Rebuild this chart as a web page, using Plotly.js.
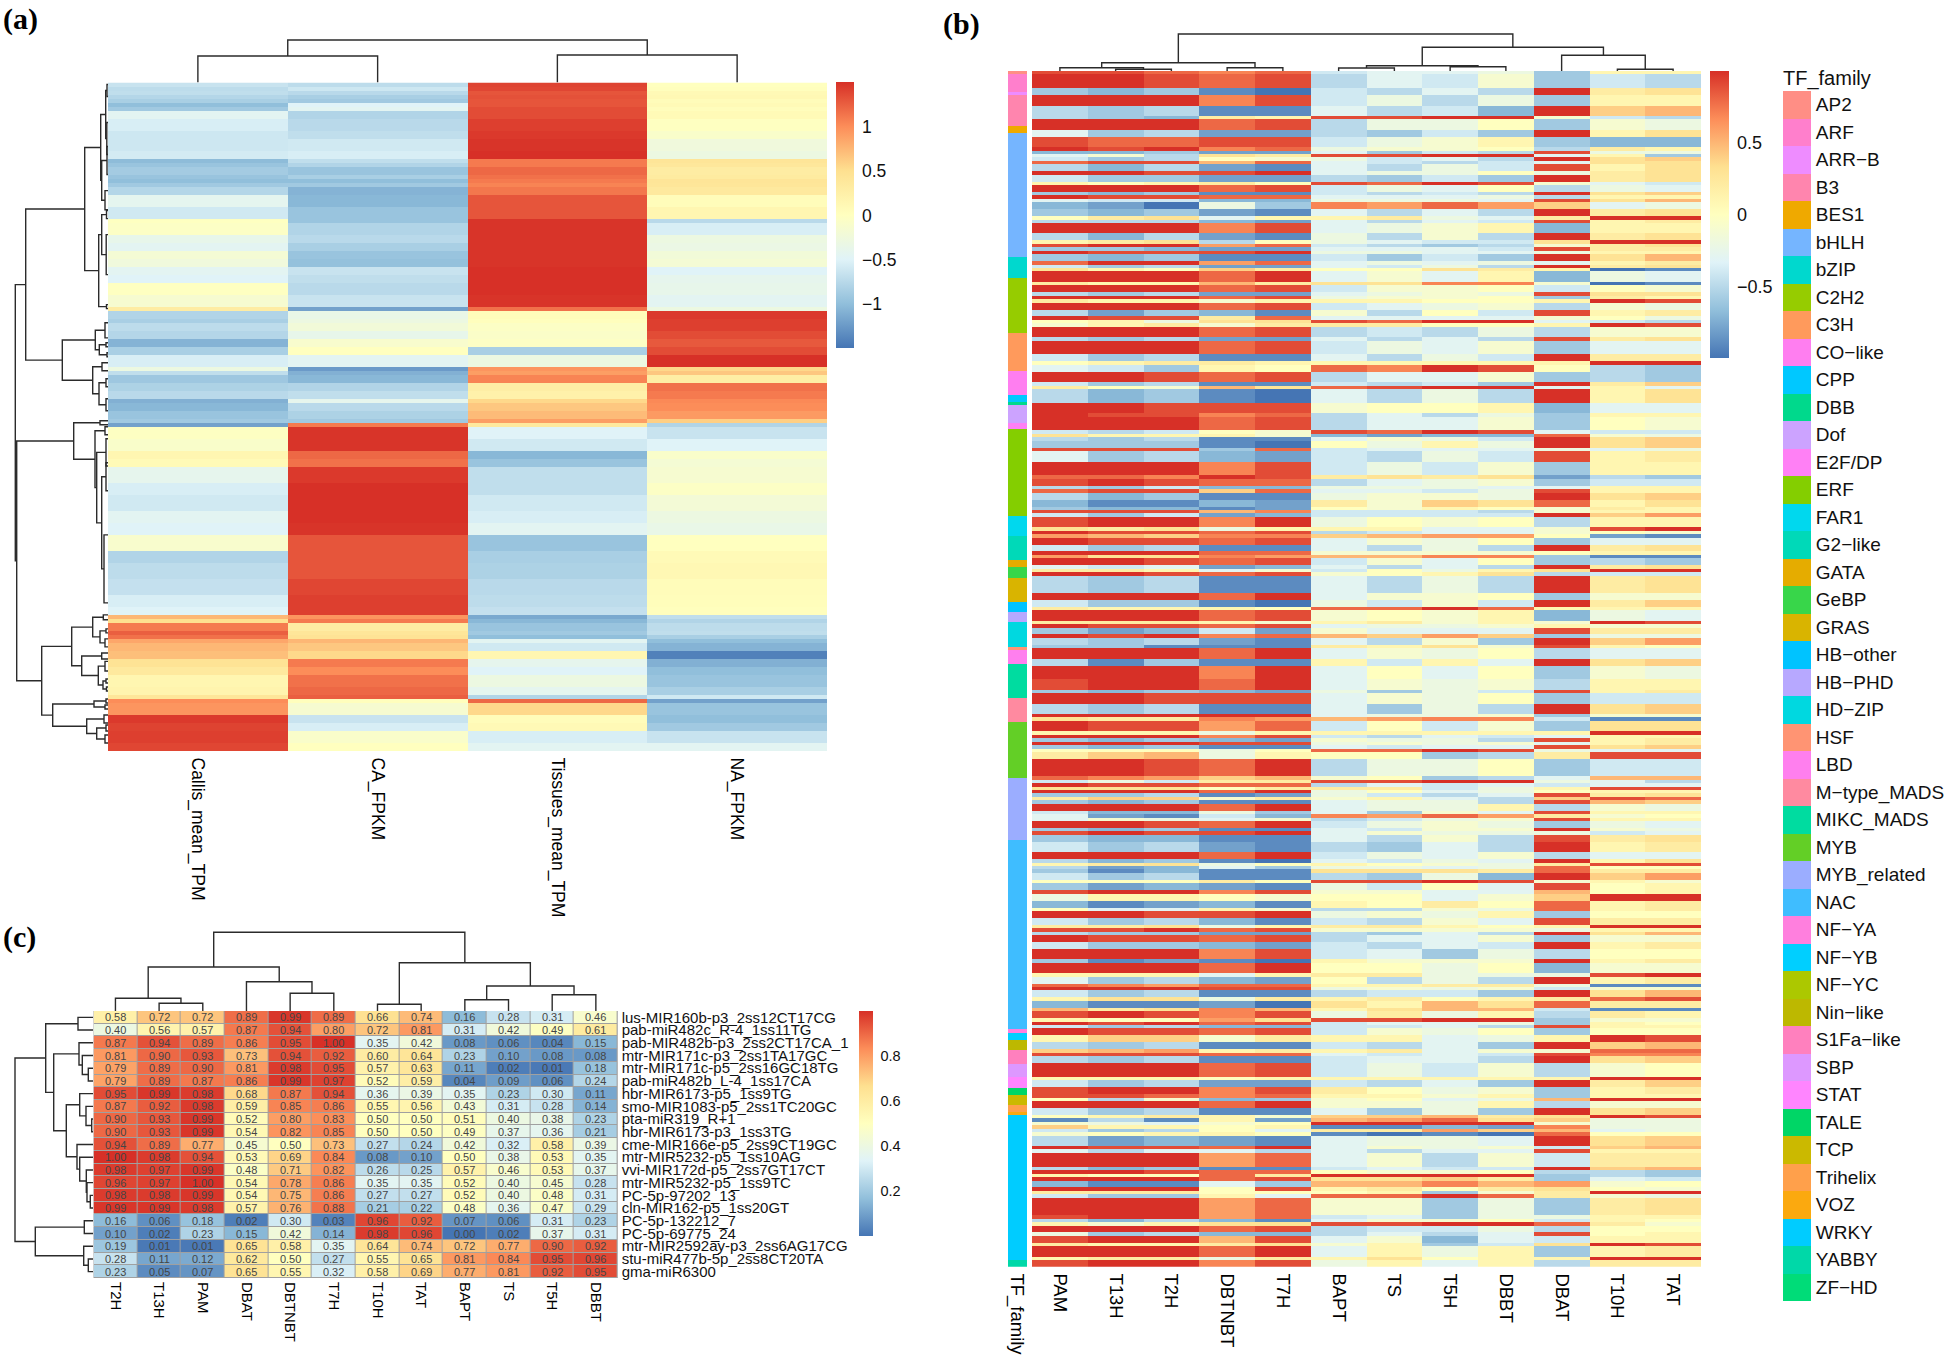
<!DOCTYPE html>
<html><head><meta charset="utf-8">
<script src="https://cdn.plot.ly/plotly-3.0.1.min.js"></script>
<style>html,body{margin:0;padding:0;background:#fff}#g{width:1946px;height:1362px}</style>
</head><body><div id="g"></div>
<script>
const W = 1946, H = 1362;
const palette = ['#4575B4','#91BFDB','#E0F3F8','#FFFFBF','#FEE090','#FC8D59','#D73027'];

/* ---------- panel (a) ---------- */
const aCols = ['Callis_mean_TPM','CA_FPKM','Tissues_mean_TPM','NA_FPKM'];
/* [row count, Callis, CA, Tissues, NA] */
const aBands = [
[1,-.65,-.72,1.4,0],[1,-.72,-.62,1.38,.02],[1,-.7,-.75,1.3,.1],[1,-.78,-.85,1.32,.12],[1,-.85,-.9,1.3,.05],[1,-1,-.5,1.3,.08],[1,-.9,-.45,1.35,.03],[2,-.45,-.8,1.35,.08],
[3,-.55,-.75,1.42,-.02],[2,-.62,-.7,1.45,-.1],[3,-.62,-.6,1.48,-.25],[2,-.58,-.55,1.5,-.3],
[1,-1.02,-.7,1.1,.42],[1,-.95,-.8,1.1,.38],[2,-.88,-.95,1.2,.3],[1,-.95,-.85,1.15,.33],[1,-1,-1,1.1,.42],[1,-.9,-.9,1.05,.4],[2,-.78,-1.08,1.12,.35],[3,-.42,-1.05,1.3,.05],[3,-.6,-.95,1.3,.15],
[1,-.02,-.95,1.48,-.75],[3,-.05,-.8,1.48,-.55],[2,-.38,-.75,1.48,-.3],[2,-.45,-.85,1.48,-.33],[2,-.18,-.95,1.48,-.22],[2,-.25,-.98,1.48,-.18],[2,-.45,-.65,1.5,-.5],[2,-.5,-.7,1.5,-.4],[3,-.02,-.75,1.5,-.38],[3,-.15,-.65,1.48,-.45],[1,.3,-1.2,1.15,-.3],
[2,-.8,-.35,.05,1.45],[1,-.85,-.3,.02,1.42],[2,-.72,-.22,-.05,1.42],[2,-.78,-.38,-.08,1.35],[2,-1.08,-.12,-.05,1.28],[2,-.85,0,-.85,1.35],[3,-.55,-.45,-.3,1.5],
[1,-.3,-1.25,.95,.55],[1,-.7,-1.1,.9,.65],[2,-.92,-1.05,1.05,.28],[2,-.82,-.8,.28,1.15],[2,-.75,-.7,.22,1.1],[1,-1.1,-.4,.55,1.02],[2,-1.05,-.75,.65,1],[2,-.95,-.82,.72,.92],[1,-.9,-.9,.9,.6],
[1,-1.2,1.1,.35,-.8],[3,-.03,1.48,-.5,-.65],[3,-.1,1.48,-.6,-.5],[2,.15,1.2,-1.05,-.1],[2,.08,1.15,-.95,-.18],[4,-.4,1.45,-.7,-.15],
[3,-.55,1.5,-.7,-.05],[4,-.6,1.5,-.6,-.2],[3,-.45,1.5,-.55,-.3],[3,-.5,1.48,-.45,-.35],
[4,-.12,1.3,-.95,0],[3,-.8,1.3,-.85,.08],[4,-.72,1.3,-.82,.12],[4,-.68,1.38,-.75,.05],[3,-.55,1.42,-.72,.04],[2,-.5,1.42,-.68,.02],
[1,.75,.95,-1.15,-.7],[1,.5,1.1,-1.05,-.8],[2,1.1,.3,-.95,-.72],[1,1.25,.4,-.9,-.7],[1,1.15,.45,-1,-.85],[1,.85,.75,-.45,-1],[2,.75,.65,-.6,-1.08],[2,.7,.55,.15,-1.42],[2,.45,1.1,-.4,-1.1],[2,.35,1,-.5,-1],[3,.15,1.15,-.3,-.95],[2,.18,1.2,-.42,-.85],[1,.4,1.25,-.8,-.6],
[1,1,.02,1.2,-1.2],[3,.95,-.15,.55,-.95],[2,1.45,-.65,.05,-1],[2,1.4,-.55,.1,-.9],[3,1.42,-.1,-.55,-.65],[2,1.38,0,-.45,-.45]
];
/* dendrograms: [merge height, child, child]; a number is a leaf position */
const aTopTree = [42.5,[26.5,0,1],[27.5,2,3]];
const aLeftTree = [92.7,
 [82.3,
  [23.3,
   [7.3,[2.3,[1,.5,3.5],[1.2,10,18]],[6.3,[1,16,23],[3,27,31.8]]],
   [9.3,[6.3,[1.5,32,34],[1.8,38,48]],[1.5,55.5,56.5]]],
  [45.7,
   [12.7,[3,60,63.8],[8.7,[2,65,66],[1,67.5,68.5]]],
   [15.3,[6,70,72],[9,[2,74,76],[2,79,82]]]]],
 [91.3,
  [34.3,
   [8,84.5,85.5],
   [13,[3,86,88],[11.3,[2,89,95.8],[6.3,[2,95,102],[4,113,130]]]]],
  [66.3,
   [36.3,
    [15.3,[4.7,133,134.2],[8,[2,136.5,137.5],[3,139,141]]],
    [26.3,[6.3,142.5,144],[9.7,[3,144.6,147],[5,[2,149,150],[1.5,151,152]]]]],
   [55.3,
    [14,[2,154,155],[3,155.5,156.5]],
    [21.3,[4,158,160],[11.3,[2,160.5,162],[3,163,165]]]]]]];

/* ---------- panel (b) ---------- */
const bCols = ['PAM','T13H','T2H','DBTNBT','T7H','BAPT','TS','T5H','DBBT','DBAT','T10H','TAT'];
const families = ['AP2','ARF','ARR\u2212B','B3','BES1','bHLH','bZIP','C2H2','C3H','CO\u2212like','CPP','DBB','Dof','E2F/DP','ERF','FAR1','G2\u2212like','GATA','GeBP','GRAS','HB\u2212other','HB\u2212PHD','HD\u2212ZIP','HSF','LBD','M\u2212type_MADS','MIKC_MADS','MYB','MYB_related','NAC','NF\u2212YA','NF\u2212YB','NF\u2212YC','Nin\u2212like','S1Fa\u2212like','SBP','STAT','TALE','TCP','Trihelix','VOZ','WRKY','YABBY','ZF\u2212HD'];
const familyColors = ['#FF8E85','#FF7FCC','#EE8CFF','#FF85AE','#EFA900','#75B5FF','#00D8CE','#96CC00','#FF9A5C','#FF7EF0','#00C8FF','#00D98C','#CCA3FF','#FF80F5','#84CE00','#00D8EE','#00D9B8','#E5AC00','#38D64A','#D9B400','#00C3FF','#B7A8FF','#00D8E0','#FF9473','#FF7FEE','#FF8AA0','#00DCA0','#63CF26','#9BADFF','#3FBDFF','#FF7FDE','#00CFFF','#ACC800','#BDB800','#FF80BE','#DD98FF','#FF85FF','#00D666','#CBB900','#FFA04B','#FBA90F','#00CCFF','#00D8A8','#00DC78'];
/* [family index, rows] as stacked down the annotation column */
const bAnnotation = [[0,1],[1,5],[2,1],[3,9],[4,2],[5,36],[6,6],[7,16],[8,11],[9,7],[10,2],[11,1],[12,5],[13,2],[14,25],[15,6],[16,7],[17,2],[18,3],[19,7],[20,3],[21,3],[22,7],[23,1],[24,4],[26,10],[25,7],[27,16],[28,18],[29,55],[30,1],[31,2],[33,3],[34,4],[35,4],[36,3],[37,2],[38,3],[39,2],[40,1],[41,42],[42,2]];
/* [row count, then 12 columns in tenths] */
const bBandsTop = [
[1,9,9,8,7,8,-4,-3,-3,-2,-6,1,1],[4,10,10,9,8,9,-5,-3,-4,-1,-6,-4,-5],[2,-6,-7,-6,-9,-10,-4,-5,-3,-5,10,2,3],[3,10,10,10,7,9,-4,-2,-5,-2,-6,1,1],[3,-5,-6,-5,-9,-9,-3,-5,-4,-7,10,4,5],[1,-5,-6,-7,2,1,9,9,10,10,-1,-4,-5],[3,10,10,10,8,9,-5,-2,-2,0,-6,-1,-2],[2,-3,-6,-5,-8,-8,-5,-6,-4,-6,10,1,3],[3,9,8,8,9,9,-4,-2,-1,1,-6,-7,-7],[1,10,9,10,7,8,-2,-1,-1,0,-5,2,1],[1,-7,-7,-6,-8,-8,-3,-6,-4,-5,9,-2,-2],[1,-3,-1,-5,3,2,9,9,10,10,-3,1,-6],[1,-4,-6,-5,0,-1,-2,-4,-3,-5,10,3,4],[1,8,9,9,5,8,-3,-4,-5,-4,-3,3,3],[2,-5,-7,-5,-8,-9,-3,-5,-2,-4,9,1,3],[1,10,10,9,9,10,-3,-2,-2,0,-2,2,3],[2,-4,-6,-6,-8,-8,-5,-6,-4,-6,10,2,3],[1,1,0,1,2,0,9,8,10,9,-1,-3,-4],[2,10,10,10,8,9,-4,-2,-3,0,-5,-2,-3],[1,-6,-7,-6,-9,-9,-4,-5,-4,-5,10,3,4],[1,10,9,9,8,8,-3,-3,-3,-2,-5,1,1],[1,-3,-4,-4,-7,-7,-2,-2,-2,-3,9,3,5],[2,-7,-8,-10,-2,-6,7,6,8,6,4,-3,-2],[2,-6,-7,-6,-8,-9,-3,-5,-3,-5,10,2,3],[1,0,2,3,-3,1,1,2,-2,-3,2,10,10],[1,-5,-5,-5,-7,-8,-3,-5,-3,-4,9,1,2],[3,10,10,10,7,9,-3,-2,-1,1,-7,1,1],[2,-5,-7,-5,-8,-9,-2,-5,-1,-5,10,2,3],[1,1,2,3,-5,0,-2,-3,-4,-4,3,10,10],[1,9,10,10,6,8,-4,-5,-6,-5,-1,2,3],[1,-6,-6,-7,-8,-8,-3,-3,-3,-4,9,2,2],[1,10,9,9,9,10,-2,-2,-3,-3,-2,1,1],[2,-6,-7,-6,-9,-9,-4,-6,-4,-6,10,3,5],[1,8,10,10,6,8,-3,-2,-3,-2,-3,1,2],[1,-4,-6,-5,-8,-8,-3,-4,-2,-5,10,2,3],[1,3,1,0,4,2,0,0,3,2,1,-10,-9],[3,10,10,10,8,10,-3,-1,-3,1,-7,-2,-3],[1,2,1,1,5,2,3,3,7,7,-1,-10,-9],[2,10,10,10,8,9,-4,-1,-1,0,-4,0,-1],[1,-5,-6,-5,-8,-8,-3,-2,-1,-2,9,3,3],[1,10,10,10,8,9,-2,-1,-1,0,-6,2,1],[1,2,1,1,-1,1,1,1,0,0,1,10,9],[2,10,10,10,8,9,-4,-3,-2,-1,-5,-1,-2],[2,-5,-8,-6,-7,-9,-1,-5,0,-4,9,1,2],[1,10,9,9,2,8,-3,-3,-3,-3,-1,0,-2],[1,0,1,-2,3,3,9,8,10,10,-3,-4,-5],[1,-1,1,2,-1,2,2,2,0,0,1,10,9],[3,10,10,10,8,9,-5,-4,-5,-2,-5,-1,-1],[1,-5,-6,-5,-8,-8,-3,-5,-3,-5,9,2,3],[4,10,10,10,8,9,-4,-2,-3,-1,-6,-3,-3],[2,-4,-6,-5,-9,-9,-3,-5,-2,-4,10,2,2],[1,0,1,2,2,1,1,1,1,1,1,10,10],[2,-3,-4,-6,1,0,8,7,10,9,0,-5,-6],[3,10,10,9,8,9,-5,-3,-3,-1,-6,-5,-6],[1,-4,-6,-5,-9,-9,-4,-5,-4,-6,10,2,4],[1,2,0,-1,5,3,8,9,10,10,-3,1,-3],[4,-5,-7,-6,-9,-10,-3,-5,-2,-5,10,1,3],[3,10,10,9,9,9,-1,0,0,1,-7,-3,-3],[1,10,9,9,7,8,-5,-3,-5,-2,-6,1,1],[4,10,10,10,8,9,-5,-3,-3,-1,-6,0,-1]
];
const bBandsMid = [
[1,-4,-5,-4,0,-1,9,8,10,9,-3,-4,-4],[1,3,1,1,1,-1,-7,-8,-7,-7,8,-1,-2],[1,-5,-6,-5,-9,-9,-3,-1,-2,-4,10,3,4],
[2,-6,-6,-6,-9,-10,0,-2,1,-2,10,3,4],[1,9,9,9,-6,8,-4,-3,-3,-3,-2,-3,-2],[3,-3,-6,-5,-7,-8,-4,-5,-2,-4,9,1,2],[4,10,10,10,7,9,-4,-2,-4,-1,-6,1,1],[1,8,8,7,10,9,2,3,2,3,-8,-5,-6],[2,9,10,9,8,8,-5,-3,-2,-1,-6,-4,-4],[1,-5,-6,-4,-7,-7,-2,-2,-2,-3,-3,1,1],[1,8,9,9,4,8,-3,-3,-4,-2,9,1,1],[2,-5,-7,-6,-9,-9,-2,-1,-1,-2,10,3,4],[2,-7,-9,-9,-7,-8,2,-1,4,3,8,1,3],[1,-6,-7,-7,-9,-8,0,-1,1,0,-1,2,1],[1,9,9,9,5,7,-4,-4,-4,-5,-1,1,1],[1,-4,-6,-4,-8,-7,-4,-4,-4,-4,10,4,6],
[3,9,10,10,7,10,-2,0,-1,0,-5,1,1],[1,3,2,3,-2,1,1,1,-3,-3,-1,9,10],[1,10,9,9,8,9,-5,-4,-3,-3,-1,0,-1],[1,6,5,4,7,7,4,5,6,6,0,-8,-9],[2,10,9,9,8,9,-3,-1,-2,0,-6,-3,-3],[2,-4,-6,-5,-9,-9,-3,-5,-2,-5,10,2,3],[1,10,10,10,8,8,-1,-1,-1,-1,0,1,1],[1,6,3,3,7,6,5,5,7,7,-6,-9,-9],[2,10,10,9,8,9,-4,-1,-3,0,-6,-5,-6],[1,-3,-4,-3,-8,-7,-3,-5,-3,-5,10,2,3],[1,2,2,1,-3,-1,-4,0,-2,1,3,10,10],[1,10,10,9,8,9,-1,0,1,3,-5,-4,-4],[5,-5,-6,-5,-9,-9,-3,-5,-2,-5,10,2,3],[2,10,10,10,8,10,-3,-1,-1,0,-6,-1,-1],[2,-4,-6,-6,-9,-10,-2,-4,-1,-4,10,2,4],[1,2,1,1,1,0,8,8,10,8,1,1,1],[3,10,10,10,8,9,-1,0,-1,1,-7,-2,-3],[1,2,2,2,1,-1,1,2,-1,1,-1,10,9],[1,10,9,9,8,9,-3,-2,-2,-1,1,-1,-1],[2,-6,-8,-7,-4,-8,-1,-3,-3,-3,9,2,2],[1,10,9,10,7,8,5,4,6,4,-6,-2,-2],[2,-5,-6,-5,-8,-9,-3,-5,-1,-6,10,4,6],[1,-6,-6,-9,-9,-9,2,1,3,-1,9,1,0],[3,10,10,10,8,10,-3,-1,-2,0,-5,-3,-3],[2,-5,-9,-6,-9,-9,1,-4,1,-3,10,3,4],[4,10,10,10,7,10,-3,0,-3,0,-6,-1,-2],[3,9,10,10,8,10,-3,-1,-2,-1,-5,1,1],[1,-6,-7,-6,-7,-8,-2,-6,-2,-4,9,1,2],[3,10,10,9,9,9,-3,-1,-2,0,-6,-4,-4],[3,-5,-6,-5,-9,-9,-3,-6,-2,-5,10,3,4],[1,10,10,10,10,10,-3,-2,-2,-1,-6,-1,-1],[1,3,2,2,7,6,5,6,7,7,-4,-9,-9],[3,10,9,9,6,8,-4,0,-4,-1,-6,3,3],[1,1,1,1,-2,1,1,1,1,1,1,10,10],[1,10,10,10,7,9,-4,-5,-3,-4,-3,1,1],[1,-6,-7,-6,-7,-8,-1,-2,-2,-5,9,1,2],[1,10,10,10,9,9,-2,-1,-2,-1,-3,1,2],[1,-6,-7,-6,-9,-9,-3,-4,-3,-3,9,3,4],[1,0,0,0,-2,0,8,8,10,9,-2,-3,-3],[2,2,4,5,-2,1,0,0,-6,-5,2,9,9],[5,10,10,9,8,10,-5,-2,-2,0,-6,-4,-4],[1,8,7,6,4,5,-1,0,-6,-5,-3,5,5],[1,-4,-2,-4,2,2,9,9,10,10,-2,-3,-5],[1,10,9,9,8,8,-5,-3,-4,-3,-4,-3,-3],[1,3,3,3,0,2,2,2,-4,-2,1,9,9],[1,10,10,10,8,10,-2,0,-3,-2,0,1,1],[1,-6,-6,-5,-9,-8,-2,-4,-5,-3,9,2,3],[1,2,4,4,-1,2,-1,1,-3,-5,4,9,8],[1,-6,-7,-6,-9,-9,-3,-2,-2,-5,9,5,4],[2,10,10,10,8,10,-3,-2,-2,1,-5,-1,-2],[1,-4,-7,-7,-2,-6,-3,-6,-1,-3,9,1,1],[1,-3,-8,-9,-4,-7,7,6,8,6,2,-1,0],[1,-3,-1,-2,-3,-1,-5,-4,-2,-1,9,1,1],[2,10,10,9,8,10,-4,-2,-1,-2,-6,-2,-3],[1,-6,-7,-6,-9,-9,-3,-4,-1,-1,10,-1,-2],[1,9,10,9,9,10,-3,-1,-2,-2,-2,-4,-3],[2,-6,-7,-7,-9,-9,-3,-5,-1,-5,9,2,3]
];
const bBandsLow = [
[3,-4,-6,-5,-8,-9,-5,-6,-3,-5,10,1,2],[2,10,10,10,8,10,-4,-2,-3,-1,-5,-3,-3],[1,-5,-7,-6,-9,-10,-3,-4,-2,-3,10,1,3],[1,1,2,3,-2,0,1,0,-1,-2,2,9,9],[1,-5,-8,-7,-3,-6,-2,-2,-3,-2,8,0,0],[1,-6,-9,-7,-9,-9,3,3,3,2,8,2,2],[2,-4,-6,-5,-9,-9,-5,-6,-2,-7,10,4,6],[1,0,0,0,2,0,9,9,10,9,-1,1,-1],[2,-6,-8,-7,-8,-9,-2,-4,0,-3,9,0,1],[1,9,10,10,7,9,-1,-1,-3,-3,5,0,1],[2,-2,1,1,0,-1,0,0,-3,-1,4,10,10],
[2,-7,-9,-8,-7,-9,1,0,2,0,8,1,2],[1,0,-3,-3,1,-1,-5,-5,-1,-2,8,1,2],[2,10,10,9,9,10,-2,-1,-2,1,-6,0,0],[2,-4,-6,-5,-7,-9,-4,-5,-1,-3,9,2,2],[1,2,2,3,-2,1,2,2,1,0,1,10,10],[1,9,9,10,8,9,-1,-1,-1,-1,-2,1,1],[1,-5,-6,-6,-8,-8,-5,-6,-3,-5,10,3,5],[2,10,9,9,8,9,-5,-3,-3,-1,-6,-1,-1],[2,-4,-6,-6,-7,-8,-4,-5,-3,-4,10,1,2],[3,10,10,10,7,9,-4,-3,-6,-2,-5,0,0],[1,-6,-9,-8,-9,-10,1,-1,-1,-1,10,1,2],[3,10,10,10,8,10,0,0,-2,0,-7,-1,-1],[1,1,1,1,-3,1,2,2,-2,-2,-2,9,10],[2,-3,-6,-5,-7,-8,0,-5,-2,-5,10,1,2],[1,8,7,6,8,8,1,1,2,2,-2,-9,-9],[1,10,10,10,9,9,-2,-1,-2,-1,-4,-1,-1],[2,-4,-6,-5,-9,-9,-5,-4,-4,-6,10,3,5],[1,1,3,3,-2,2,1,2,0,1,2,8,9],[2,-7,-9,-9,-8,-10,3,1,5,3,8,2,2],[1,5,2,3,7,5,1,3,5,5,-4,-9,-9],[2,9,10,9,7,9,-2,2,-2,1,-5,2,1],[1,1,0,0,6,3,9,9,10,10,-6,-1,-1],[1,10,9,10,8,9,-4,-3,-3,-2,-6,1,0],[1,-4,-6,-5,-7,-7,-4,-4,-3,-5,9,1,1],[2,10,9,9,8,9,-4,-1,-2,0,-6,0,0],[2,1,4,4,-1,2,1,1,-3,-2,1,10,9],[2,-5,-6,-5,-9,-9,-4,-5,-3,-6,10,4,5],[1,4,5,6,1,2,1,2,-3,-1,-1,8,8],[1,9,9,9,8,8,-3,-4,-3,-4,9,7,7],[2,-5,-6,-5,-9,-9,-4,-3,-3,-5,10,3,4],[4,10,10,10,8,9,-4,-2,-4,-1,-5,-1,0],[1,1,1,1,0,1,1,1,1,1,1,10,10],[2,-4,-6,-5,-8,-8,-4,-5,-3,-6,10,2,4],[2,9,10,10,7,9,2,0,-2,-1,-6,1,2],[1,9,9,8,7,8,1,1,-1,1,-6,1,1],[1,0,-5,-1,-7,-6,-1,0,-3,-2,5,10,10],[2,10,10,10,8,10,-1,-1,-2,1,-5,-1,-1],[2,-4,-6,-5,-9,-9,-3,-6,-2,-6,10,3,4],[1,0,1,2,1,-1,4,4,5,2,3,10,9],[1,-9,-5,-9,1,-8,5,6,8,3,4,-2,-2],[1,-1,-2,-3,-1,0,10,10,10,10,-1,-2,-2],[1,4,1,1,0,1,-9,-9,-7,-8,7,-2,-2],[1,-4,-6,-5,0,-3,2,2,6,4,5,-3,-2],[1,-1,0,1,1,0,-9,-10,-9,-10,8,0,0],[3,-5,-8,-7,-8,-9,-3,-2,-2,-3,10,3,4],[1,10,9,9,8,10,-3,-1,-2,-1,-4,4,5],[1,-3,-5,-3,-3,-5,-3,-5,-3,-3,9,1,1],[4,10,10,10,6,8,-3,-1,-5,-1,-4,2,2],[1,-5,-7,-6,-9,-9,-4,-3,-4,-4,10,4,5],[1,10,10,9,8,8,0,-1,-1,0,-5,-5,-6],[1,1,0,0,8,2,10,10,10,10,-6,-5,-6],[1,10,10,10,8,9,3,3,4,2,-6,-3,-4],[2,-7,-9,-9,-3,-6,5,5,7,5,6,-1,0],[1,10,10,10,0,9,1,2,0,2,3,0,-1],[1,2,2,2,0,0,0,1,-6,-1,2,10,10],[1,-4,-6,-6,1,-3,8,8,10,8,2,-1,-2],[5,10,10,10,6,8,-1,-1,-6,-2,-6,2,3],[1,9,10,10,6,8,-4,-3,-6,-2,-2,1,1],[1,-5,-7,-5,-7,-9,-3,-1,-1,0,-4,1,0],[1,1,-1,1,3,3,9,9,10,10,8,2,-1],[2,10,10,10,8,9,-5,-4,-4,-2,-5,0,0],[1,-2,-6,-5,-7,-7,-5,-3,-5,-3,9,0,1],[2,9,10,10,5,9,-3,-1,-7,-3,-4,1,1],[1,2,1,1,2,3,-1,1,-6,-4,3,10,9],[3,10,10,10,8,10,-3,1,-2,1,-6,1,2],[1,1,2,2,-2,2,1,3,0,1,1,10,10],[2,9,10,10,7,9,-2,1,-3,1,-5,2,2]
];
const bTopTree = [37,
 [8.3,[3.3,0,[1.7,1,2]],[3.3,3,4]],
 [23.7,[5.3,[3,5,6],[4.3,7,8]],[15.7,9,[1.7,10,11]]]];

/* ---------- panel (c) ---------- */
const cCols = ['T2H','T13H','PAM','DBAT','DBTNBT','T7H','T10H','TAT','BAPT','TS','T5H','DBBT'];
const cRows = ['lus-MIR160b-p3_2ss12CT17CG','pab-miR482c_R-4_1ss11TG','pab-MIR482b-p3_2ss2CT17CA_1','mtr-MIR171c-p3_2ss1TA17GC','mtr-MIR171c-p5_2ss16GC18TG','pab-miR482b_L-4_1ss17CA','hbr-MIR6173-p5_1ss9TG','smo-MIR1083-p5_2ss1TC20GC','pta-miR319_R+1','hbr-MIR6173-p3_1ss3TG','cme-MIR166e-p5_2ss9CT19GC','mtr-MIR5232-p5_1ss10AG','vvi-MIR172d-p5_2ss7GT17CT','mtr-MIR5232-p5_1ss9TC','PC-5p-97202_13','cln-MIR162-p5_1ss20GT','PC-5p-132212_7','PC-5p-69775_24','mtr-MIR2592ay-p3_2ss6AG17CG','stu-miR477b-5p_2ss8CT20TA','gma-miR6300'];
const cValues = [
[.58,.72,.72,.89,.99,.89,.66,.74,.16,.28,.31,.46],
[.40,.56,.57,.87,.94,.80,.72,.81,.31,.42,.49,.61],
[.87,.94,.89,.86,.95,1.00,.35,.42,.08,.06,.04,.15],
[.81,.90,.93,.73,.94,.92,.60,.64,.23,.10,.08,.08],
[.79,.89,.90,.81,.98,.95,.57,.63,.11,.02,.01,.18],
[.79,.89,.87,.86,.99,.97,.52,.59,.04,.09,.06,.24],
[.95,.99,.98,.68,.87,.94,.36,.39,.35,.23,.30,.11],
[.87,.92,.98,.59,.85,.86,.55,.56,.43,.31,.28,.14],
[.90,.93,.99,.52,.80,.83,.50,.50,.51,.40,.38,.23],
[.90,.93,.99,.54,.82,.85,.50,.50,.49,.37,.36,.21],
[.94,.89,.77,.45,.50,.73,.27,.24,.42,.32,.58,.39],
[1.00,.98,.94,.53,.69,.84,.08,.10,.50,.38,.53,.35],
[.98,.97,.99,.48,.71,.82,.26,.25,.57,.46,.53,.37],
[.96,.97,1.00,.54,.78,.86,.35,.35,.52,.40,.45,.28],
[.98,.98,.99,.54,.75,.86,.27,.27,.52,.40,.48,.31],
[.99,.99,.98,.57,.76,.88,.21,.22,.48,.36,.47,.29],
[.16,.06,.18,.02,.30,.03,.96,.92,.07,.06,.31,.23],
[.10,.02,.23,.15,.42,.14,.98,.96,.00,.02,.37,.31],
[.19,.01,.01,.65,.58,.35,.64,.74,.72,.77,.90,.92],
[.28,.11,.12,.62,.50,.27,.55,.65,.81,.84,.95,.96],
[.23,.05,.07,.65,.55,.32,.58,.69,.77,.81,.92,.95]
];
const cTopTree = [78.7,
 [44,[12.7,0,[7.7,1,2]],[29.3,3,[17.7,4,5]]],
 [48.3,[6.7,6,7],[25,[11.3,8,9],[16.3,10,11]]]];
const cLeftTree = [78,
 [47.3,
  [15,0,1],
  [39.3,
   [14,2,[10.7,3,[4.7,4,5]]],
   [26.7,
    [13.3,6,[7,7,[1.3,8,9]]],
    [16,10,[13.3,11,[6.7,12,[6,13,[2.7,14,15]]]]]]]],
 [57.7,[8.7,16,17],[9.3,18,[4.7,19,20]]]];

/* ---------- build ---------- */
const scale = palette.map((c,i)=>[i/(palette.length-1),c]);
const font = 'Liberation Sans, Arial, sans-serif';
const expand = bands => { const out=[]; bands.forEach(b=>{ for(let i=0;i<b[0];i++) out.push(b.slice(1)); }); return out; };
const layout = {width:W,height:H,margin:{l:0,r:0,t:0,b:0},paper_bgcolor:'#fff',plot_bgcolor:'rgba(0,0,0,0)',showlegend:false,hovermode:false,font:{family:font,color:'#000'},annotations:[],shapes:[]};
const traces = [];
let axisId = 1;
function axes(x0,x1,y0,y1,xr,yr,xo,yo){
  axisId++;
  const id = axisId, base={showgrid:false,zeroline:false,showline:false,fixedrange:true,ticks:'',showticklabels:false};
  layout['xaxis'+id] = Object.assign({},base,{domain:[x0/W,x1/W],range:xr,anchor:'y'+id},xo||{});
  layout['yaxis'+id] = Object.assign({},base,{domain:[1-y1/H,1-y0/H],range:yr,anchor:'x'+id},yo||{});
  return {x:'x'+id,y:'y'+id};
}
function walk(node,segs){
  if(typeof node==='number') return {p:node,h:0};
  const a=walk(node[1],segs), b=walk(node[2],segs);
  segs.push([a.p,a.h,b.p,b.h,node[0]]);
  return {p:(a.p+b.p)/2,h:node[0]};
}
function dendro(tree,ax,top){
  const segs=[]; walk(tree,segs);
  const P=[],Q=[];
  segs.forEach(s=>{ P.push(s[0],s[0],s[2],s[2],null); Q.push(s[1],s[4],s[4],s[3],null); });
  traces.push({type:'scatter',mode:'lines',xaxis:ax.x,yaxis:ax.y,x:top?P:Q,y:top?Q:P,line:{color:'#2b2b2b',width:1.4},hoverinfo:'skip'});
}
function labelAxis(labels,size,len){
  return {tickmode:'array',tickvals:labels.map((_,i)=>i),ticktext:labels,showticklabels:true,ticks:'outside',ticklen:len,tickcolor:'rgba(0,0,0,0)',tickangle:90,tickfont:{family:font,size:size,color:'#000'}};
}
function colorbar(x,thick,top,len,vals,size){
  return {x:x/W,xanchor:'left',xpad:0,ypad:0,y:1-top/H,yanchor:'top',len:len,lenmode:'pixels',thickness:thick,thicknessmode:'pixels',outlinewidth:0,tickmode:'array',tickvals:vals,ticks:'outside',ticklen:5,tickcolor:'rgba(0,0,0,0)',tickfont:{family:font,size:size,color:'#111'}};
}
function letter(txt,x,y){
  layout.annotations.push({text:txt,xref:'paper',yref:'paper',x:x/W,y:1-y/H,xanchor:'left',yanchor:'middle',showarrow:false,font:{family:'Liberation Serif, serif',size:30,color:'#000'}});
}

/* panel a */
const aZ = expand(aBands), aN = aZ.length;
const aH = axes(108,827,82.5,751,[-.5,3.5],[aN-.5,-.5],labelAxis(aCols,17.5,2));
traces.push({type:'heatmap',xaxis:aH.x,yaxis:aH.y,z:aZ,zmin:-1.5,zmax:1.5,colorscale:scale,colorbar:colorbar(836,17.5,82.5,266,[-1,-.5,0,.5,1],17.5)});
dendro(aTopTree,axes(108,827,30,82.5,[-.5,3.5],[0,52.5]),true);
dendro(aLeftTree,axes(0,108,82.5,751,[108,0],[167,0]),false);

/* panel b */
const bZ = expand(bBandsTop.concat(bBandsMid,bBandsLow)).map(r=>r.map(v=>v/10)), bN = bZ.length;
const bH = axes(1032,1701,71,1266.7,[-.5,11.5],[bN-.5,-.5],labelAxis(bCols,18.5,2));
traces.push({type:'heatmap',xaxis:bH.x,yaxis:bH.y,z:bZ,zmin:-1,zmax:1,colorscale:scale,colorbar:colorbar(1710,19,71,287,[-.5,0,.5],18)});
dendro(bTopTree,axes(1032,1701,25,71,[-.5,11.5],[0,46]),true);
const famScale=[]; familyColors.forEach((c,i)=>{famScale.push([i/44,c],[(i+1)/44,c]);});
const annZ=[]; bAnnotation.forEach(a=>{ for(let i=0;i<a[1];i++) annZ.push([a[0]]); });
const anAx = axes(1008,1027,71,1266.7,[-.5,.5],[annZ.length-.5,-.5],labelAxis(['TF_family'],18.5,2));
traces.push({type:'heatmap',xaxis:anAx.x,yaxis:anAx.y,z:annZ,zmin:-.5,zmax:43.5,colorscale:famScale,showscale:false});
const legAx = axes(1783,1811,91,1301,[-.5,.5],[43.5,-.5],{},{side:'right',tickmode:'array',tickvals:families.map((_,i)=>i),ticktext:families,showticklabels:true,ticks:'outside',ticklen:0,tickcolor:'rgba(0,0,0,0)',tickfont:{family:font,size:19,color:'#111'}});
traces.push({type:'heatmap',xaxis:legAx.x,yaxis:legAx.y,z:families.map((_,i)=>[i]),zmin:-.5,zmax:43.5,colorscale:famScale,showscale:false});
layout.annotations.push({text:'TF_family',xref:'paper',yref:'paper',x:1781/W,y:1-78/H,xanchor:'left',yanchor:'middle',showarrow:false,font:{family:font,size:20,color:'#111'}});

/* panel c */
const cH = axes(93.6,617.7,1011,1278,[-.5,11.5],[20.5,-.5],labelAxis(cCols,15,0),
  {side:'right',tickmode:'array',tickvals:cRows.map((_,i)=>i),ticktext:cRows,showticklabels:true,ticks:'outside',ticklen:0,tickcolor:'rgba(0,0,0,0)',tickfont:{family:font,size:15,color:'#111'}});
layout.shapes.push({type:'rect',layer:'below',xref:cH.x,yref:cH.y,x0:-.5,x1:11.5,y0:-.5,y1:20.5,fillcolor:'#a0a0a0',line:{color:'#a0a0a0',width:1}});
traces.push({type:'heatmap',xaxis:cH.x,yaxis:cH.y,z:cValues,zmin:0,zmax:1,xgap:1,ygap:1,colorscale:scale,texttemplate:'%{z:.2f}',textfont:{family:font,size:11,color:'#454545'},colorbar:colorbar(859,14,1011,225,[.2,.4,.6,.8],14.5)});
dendro(cTopTree,axes(93.6,617.7,925,1011,[-.5,11.5],[0,86]),true);
dendro(cLeftTree,axes(0,93,1011,1278,[93,0],[20.5,-.5]),false);

letter('<b>(a)</b>',1,19);
letter('<b>(b)</b>',941,24);
letter('<b>(c)</b>',1,937);

Plotly.newPlot('g',traces,layout,{displayModeBar:false,staticPlot:true});
</script></body></html>
